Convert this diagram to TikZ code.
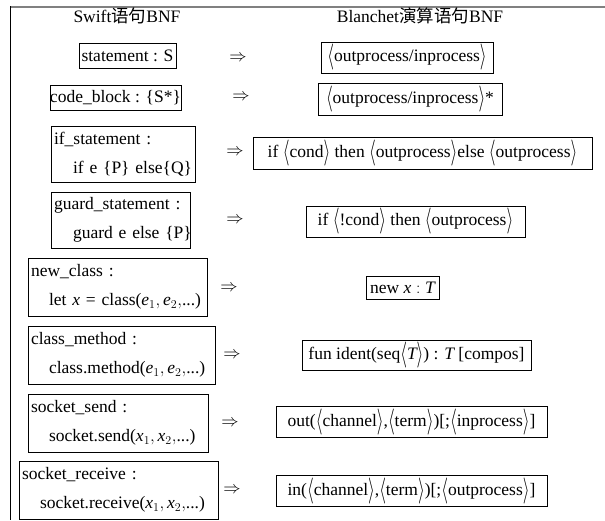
\documentclass[tikz,border=0pt]{standalone}
\usepackage{graphicx}
\usepackage{fontspec}
\setmainfont{Liberation Serif}
\newfontfamily\tms{Liberation Serif}
\newfontfamily\cjk{Noto Sans CJK SC}
\newcommand{\abra}{\raisebox{-0.12em}{\scalebox{1}[1.5]{\(\langle\)}}}
\newcommand{\kbra}{\raisebox{-0.12em}{\scalebox{1}[1.5]{\(\rangle\)}}}
\newcommand{\lang}[1]{\abra#1\kbra}
\begin{document}
\begin{tikzpicture}[x=1pt,y=-1pt,
  every node/.style={font=\tms\fontsize{17.5}{29}\selectfont, inner sep=0pt},
  rbox/.style={draw, line width=0.8pt, inner sep=0pt},
  lbox/.style={draw, line width=0.8pt, align=left, inner xsep=3pt, inner ysep=0pt},
  arr/.style={inner sep=0pt},
  head/.style={inner sep=0pt}]
\useasboundingbox (0,0) rectangle (605,520);
\draw[gray, line width=2pt] (10,7) -- (605,7);
\draw[black, line width=1.3pt] (10.5,6) -- (10.5,520);

\node[head] (h1) at (127,16) {Swift{\cjk 语句}BNF};
\node[head] (h2) at (420,16) {Blanchet{\cjk 演算语句}BNF};

\node[rbox, minimum width=97, minimum height=25] (l1) at (127.5,55.5) {statement : S};
\node[arr] (a1) at (238,58) {\(\Rightarrow\)};
\node[rbox, minimum width=172, minimum height=31] (r1) at (407,57.5) {\lang{outprocess/inprocess}};

\node[rbox, minimum width=119, minimum height=25] (l2) at (115.5,97.5) {code\_block : \{S*\}};
\node[arr] (a2) at (241,97) {\(\Rightarrow\)};
\node[rbox, minimum width=184, minimum height=32] (r2) at (410,99) {\lang{outprocess/inprocess}*};

\node[lbox, text width=138, minimum height=56] (l3) at (123,154) {\mbox{if\_statement :}\\\mbox{\hspace*{19pt}if e \{P\} else\{Q\}}};
\node[arr] (a3) at (235,152) {\(\Rightarrow\)};
\node[rbox, minimum width=339, minimum height=32] (r3) at (422.5,153) {if \lang{cond} then \lang{outprocess}else \lang{outprocess}};

\node[lbox, text width=133, minimum height=56] (l4) at (120.5,220) {\mbox{guard\_statement :}\\\mbox{\hspace*{19pt}guard e else \{P\}}};
\node[arr] (a4) at (235,220) {\(\Rightarrow\)};
\node[rbox, minimum width=219, minimum height=31] (r4) at (415.5,221.5) {if \lang{!cond} then \lang{outprocess}};

\node[lbox, text width=173, minimum height=58] (l5) at (117.5,287) {\mbox{new\_class :}\\\mbox{\hspace*{18pt}let \(\mathit{x}\) = class(\(\mathit{e}_1,\mathit{e}_2,\)...)}};
\node[arr] (a5) at (229,288) {\(\Rightarrow\)};
\node[rbox, minimum width=73, minimum height=23] (r5) at (402.5,288) {new \(\mathit{x}:\mathit{T}\)};

\node[lbox, text width=181, minimum height=58] (l6) at (121.5,355) {\mbox{class\_method :}\\\mbox{\hspace*{18pt}class.method(\(\mathit{e}_1,\mathit{e}_2,\)...)}};
\node[arr] (a6) at (232,355) {\(\Rightarrow\)};
\node[rbox, minimum width=229, minimum height=30] (r6) at (416.5,355) {fun ident(seq\lang{\(\mathit{T}\)}) : \(\mathit{T}\) [compos]};

\node[lbox, text width=174, minimum height=58] (l7) at (118,423) {\mbox{socket\_send :}\\\mbox{\hspace*{18pt}socket.send(\(\mathit{x}_1,\mathit{x}_2,\)...)}};
\node[arr] (a7) at (230,423) {\(\Rightarrow\)};
\node[rbox, minimum width=271, minimum height=31] (r7) at (411.5,422) {out(\lang{channel},\lang{term})[;\lang{inprocess}]};

\node[lbox, text width=193, minimum height=58] (l8) at (118.5,490) {\mbox{socket\_receive :}\\\mbox{\hspace*{18pt}socket.receive(\(\mathit{x}_1,\mathit{x}_2,\)...)}};
\node[arr] (a8) at (232,490) {\(\Rightarrow\)};
\node[rbox, minimum width=271, minimum height=31] (r8) at (411.5,491) {in(\lang{channel},\lang{term})[;\lang{outprocess}]};
\end{tikzpicture}
\end{document}
